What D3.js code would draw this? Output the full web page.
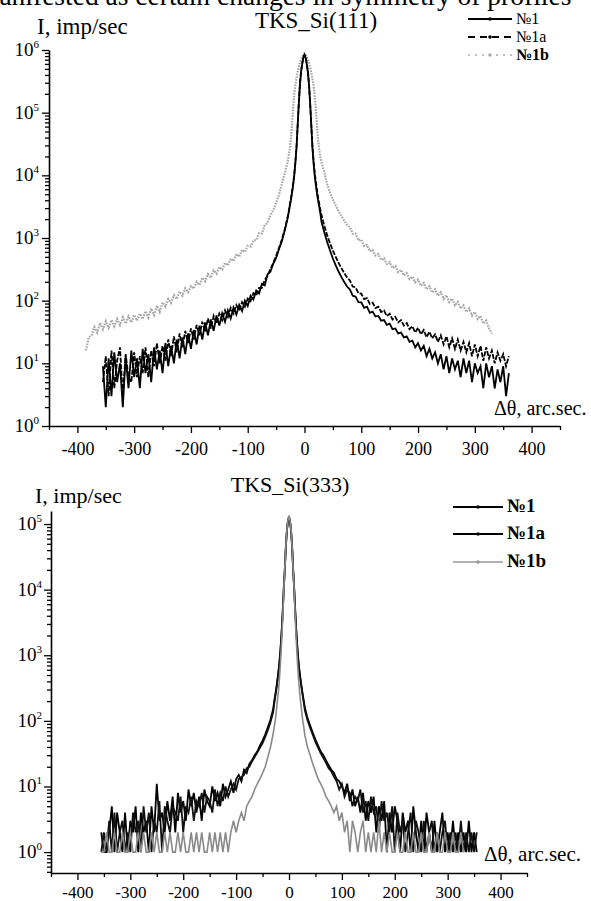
<!DOCTYPE html>
<html>
<head>
<meta charset="utf-8">
<script src="https://cdn.jsdelivr.net/npm/d3@7"></script>
<style>
body { margin: 0; background: #fff; }
svg { display: block; font-family: "Liberation Serif", "Times New Roman", serif; }
</style>
</head>
<body>
<script>
// scan angles, arc sec (same grid for both reflections)
const angles = [
  -385,-380,-375,-370,-365,-360,-355,-350,-345,-340,
  -335,-330,-325,-320,-315,-310,-305,-300,-295,-290,
  -285,-280,-275,-270,-265,-260,-255,-250,-245,-240,
  -235,-230,-225,-220,-215,-210,-205,-200,-195,-190,
  -185,-180,-175,-170,-165,-160,-155,-150,-145,-140,
  -135,-130,-125,-120,-115,-110,-105,-100,-95,-90,
  -85,-80,-75,-70,-65,-60,-55,-50,-45,-40,
  -35,-30,
  -28,-26,-24,-22,-20,-18,-16,-14,-12,-10,-8,-6,-4,-2,0,2,4,6,8,10,12,14,16,18,20,22,24,26,28,
  30,35,40,45,50,55,60,65,70,75,
  80,85,90,95,100,105,110,115,120,125,
  130,135,140,145,150,155,160,165,170,175,
  180,185,190,195,200,205,210,215,220,225,
  230,235,240,245,250,255,260,265,270,275,
  280,285,290,295,300,305,310,315,320,325,
  330,335,340,345,350,355,360
];

// ---- TKS_Si(111), imp/sec
const si111_no1 = [
  null,null,null,null,null,null,
  9,2,12,3,15,5,10,2,13,4,
  16,6,12,4,17,7,14,5,18,8,
  16,7,21,9,19,10,24,12,26,14,
  30,17,34,20,40,24,45,28,50,33,
  58,40,63,46,70,52,78,60,86,68,
  100,82,120,104,145,130,185,175,265,290,
  390,480,660,880,1300,2000,
  2500,3200,4000,5200,7000,10000,16000,28000,63000,140000,
  280000,450000,600000,760000,830000,750000,590000,440000,270000,135000,
  60000,27000,15500,9800,6900,5100,3900,3100,2450,
  1800,1220,860,630,470,365,292,238,198,168,
  150,120,116,95,94,77,80,64,67,56,
  57,48,49,41,43,35,36,30,31,26,
  27,22,23,18,21,16,19,13,17,12,
  15,10,14,8,13,7,12,8,11,6,
  12,7,11,5,10,7,9,4,10,6,
  9,4,8,5,9,3,7
];
const si111_no1a = [
  null,null,null,null,null,null,
  5,13,3,16,4,11,18,3,14,6,
  5,15,6,13,7,18,6,16,9,21,
  10,19,11,24,13,27,15,30,18,33,
  21,36,24,41,28,46,32,52,36,57,
  43,62,49,70,55,77,62,85,70,95,
  80,108,98,132,122,160,160,215,250,320,
  400,520,690,940,1360,2100,
  2600,3300,4200,5500,7300,10500,16800,29000,65000,145000,
  290000,460000,610000,770000,840000,765000,605000,455000,285000,142000,
  64000,29000,17000,11000,7800,5800,4400,3500,2800,
  2300,1550,1100,820,630,500,400,330,275,235,
  210,168,163,132,130,106,110,89,93,76,
  80,66,70,57,62,50,55,45,49,40,
  44,35,39,31,37,29,34,26,32,25,
  29,22,28,20,27,18,25,17,24,16,
  22,15,21,13,20,13,19,11,18,12,
  16,10,15,11,14,9,13
];
const si111_no1b = [
  16,26,28,38,31,44,35,47,37,49,
  39,51,41,54,43,56,45,59,48,62,
  51,68,54,75,59,83,66,94,80,106,
  92,122,106,140,120,158,136,170,156,200,
  178,232,204,265,232,305,270,345,315,400,
  365,470,430,555,505,650,600,750,730,910,
  930,1190,1180,1600,1750,2350,2750,3650,4900,7200,10600,15800,
  20000,26000,38000,65000,115000,200000,280000,360000,450000,540000,
  630000,710000,790000,850000,890000,850000,785000,700000,620000,530000,
  440000,350000,270000,190000,115000,62000,36000,25500,19500,
  16000,11000,7200,5300,4100,3300,2700,2250,1900,1620,
  1480,1170,1180,920,940,740,770,615,645,525,
  555,445,475,385,410,330,355,286,310,252,
  274,222,242,196,216,172,192,152,170,135,
  152,120,136,107,122,95,108,84,96,75,
  84,66,75,58,66,51,57,43,48,36,
  30,null,null,null,null,null,null
];

// ---- TKS_Si(333), imp/sec
const si333_no1 = [
  null,null,null,null,null,null,
  2,1,1,2,5,1,4,2,1,4,
  1,3,2,5,1,4,2,3,1,5,
  2,11,3,4,2,6,3,7,2,8,
  4,6,3,9,5,8,4,7,3,9,
  6,5,10,6,8,5,11,7,9,12,
  8,13,15,12,18,16,22,25,30,34,
  42,50,62,80,105,150,
  200,250,316,417,560,800,1260,2240,4470,10000,
  20000,45000,80000,112000,130000,110000,78000,44000,19500,9800,
  4400,2200,1250,790,560,420,320,250,200,
  160,110,85,66,52,42,34,30,25,21,
  18,16,13,12,10,8,11,6,9,5,
  7,4,8,3,6,4,7,2,5,3,
  6,1,4,2,5,3,1,4,2,3,
  1,5,2,1,3,1,4,2,1,3,
  1,2,4,1,2,1,3,1,2,1,
  2,1,3,1,2,1,null
];
const si333_no1a = [
  null,null,null,null,null,null,
  1,2,1,3,1,4,1,2,3,1,
  2,1,4,2,3,1,5,2,4,1,
  3,2,6,1,5,3,2,5,4,3,
  7,2,5,4,7,3,6,5,8,4,
  7,6,4,9,5,8,6,10,7,9,
  11,9,13,14,15,19,20,24,28,33,
  39,46,57,72,95,135,
  180,230,300,400,540,780,1220,2150,4300,9700,
  19500,44000,79000,111000,128000,109000,77000,43000,19000,9500,
  4300,2150,1200,760,540,400,310,240,190,
  145,102,78,61,48,39,32,27,23,19,
  17,14,12,9,11,7,9,8,5,7,
  6,9,4,6,3,7,4,5,2,6,
  3,4,2,5,1,4,2,3,1,2,
  4,1,3,2,1,3,1,2,3,1,
  2,1,2,3,1,2,1,2,1,3,
  1,2,1,2,1,2,null
];
const si333_no1b = [
  null,null,null,null,null,null,
  1,1,2,1,1,2,1,1,2,1,
  1,2,1,1,2,1,2,1,1,2,
  1,2,1,1,2,1,2,1,1,2,
  1,2,1,1,2,1,2,1,2,1,
  1,2,1,2,1,2,1,2,1,2,
  3,2,3,4,3,5,6,7,9,11,
  13,16,20,28,40,63,
  80,100,140,200,280,450,800,1600,3500,9000,
  20000,45000,80000,115000,135000,114000,79000,44000,19500,8800,
  3400,1550,780,440,275,195,138,100,80,
  60,40,30,22,17,13,11,9,7,6,
  5,4,5,3,4,2,3,1,3,2,
  1,2,3,1,2,1,2,1,3,1,
  2,1,2,1,1,2,1,1,2,1,
  1,2,1,1,2,1,1,2,1,1,
  2,1,1,2,1,1,2,1,1,2,
  1,null,null,null,null,null,null
];

const seriesNames = ["№1", "№1a", "№1b"];
const xTicks = [-400, -300, -200, -100, 0, 100, 200, 300, 400];
const xMinorTicks = [-450, -350, -250, -150, -50, 50, 150, 250, 350, 450];

const svg = d3.select("body").append("svg")
    .attr("width", 591)
    .attr("height", 901);

// last line of the page text above the figure, cut by the crop
svg.append("text")
    .attr("x", -22).attr("y", 5)
    .attr("font-size", 27.5)
    .text("manifested as certain changes in symmetry of profiles");

function drawPanel(p) {
  const x = d3.scaleLinear().domain([-450, 450]).range(p.xRange);
  const y = d3.scaleLog().domain(p.yDomain).range(p.yRange);
  const g = svg.append("g");

  // minor ticks first, then the major axis on top
  let yMinor = [];
  for (let k = -1; k <= 6; k++) {
    for (let m = 2; m <= 9; m++) {
      let v = m * Math.pow(10, k);
      if (v >= p.yDomain[0] && v <= p.yDomain[1]) yMinor.push(v);
    }
  }
  let yMajor = [];
  for (let k = 0; k <= 6; k++) {
    let v = Math.pow(10, k);
    if (v >= p.yDomain[0] && v <= p.yDomain[1]) yMajor.push(v);
  }

  g.append("g")
      .attr("transform", "translate(0," + p.yRange[0] + ")")
      .call(d3.axisBottom(x).tickValues(xMinorTicks).tickSize(4).tickSizeOuter(0).tickFormat(""))
      .call(a => a.select(".domain").remove());
  const xa = g.append("g")
      .attr("transform", "translate(0," + p.yRange[0] + ")")
      .call(d3.axisBottom(x).tickValues(xTicks).tickSize(7).tickSizeOuter(0).tickFormat(d => String(d)));
  xa.selectAll("text")
      .attr("y", p.xLabelOffset).attr("dy", 0)
      .attr("font-size", p.tickFont)
      .attr("font-family", "Liberation Serif");

  g.append("g")
      .attr("transform", "translate(" + p.xRange[0] + ",0)")
      .call(d3.axisLeft(y).tickValues(yMinor).tickSize(4).tickSizeOuter(0).tickFormat(""))
      .call(a => a.select(".domain").remove());
  g.append("g")
      .attr("transform", "translate(" + p.xRange[0] + ",0)")
      .call(d3.axisLeft(y).tickValues(yMajor).tickSize(7).tickSizeOuter(0).tickFormat(""));

  g.selectAll(".domain").attr("stroke-width", 1.6);
  g.selectAll(".tick line").attr("stroke-width", 1.3);

  // 10^k labels
  const yl = g.append("g").selectAll("text")
      .data(yMajor)
    .enter().append("text")
      .attr("x", p.xRange[0] - p.yLabelGap)
      .attr("y", d => y(d) + 6)
      .attr("text-anchor", "end")
      .attr("font-size", 19);
  yl.append("tspan").text("10");
  yl.append("tspan")
      .attr("dy", -8)
      .attr("font-size", 11)
      .text(d => Math.round(Math.log10(d)));

  // curves
  const line = d3.line()
      .defined(d => d[1] != null)
      .x(d => x(d[0]))
      .y(d => y(d[1]));

  p.series.forEach(function(s) {
    g.append("path")
        .datum(angles.map((a, i) => [a, s.values[i]]))
        .attr("d", line)
        .attr("fill", "none")
        .attr("stroke", s.color)
        .attr("stroke-width", s.width)
        .attr("stroke-dasharray", s.dash)
        .attr("stroke-linejoin", "miter");
  });

  // titles
  g.append("text")
      .attr("x", p.titleX).attr("y", p.titleY)
      .attr("text-anchor", "middle")
      .attr("font-size", p.titleFont)
      .text(p.title);
  g.append("text")
      .attr("x", p.yTitleX).attr("y", p.yTitleY)
      .attr("font-size", p.titleFont)
      .text("I, imp/sec");
  g.append("text")
      .attr("x", p.xTitleX).attr("y", p.xTitleY)
      .attr("font-size", p.xTitleFont)
      .text("Δθ, arc.sec.");

  // legend
  const lg = g.append("g").selectAll("g")
      .data(p.legend)
    .enter().append("g")
      .attr("transform", (d, i) => "translate(" + p.legendX + "," + p.legendY[i] + ")");
  lg.append("line")
      .attr("x1", 0).attr("x2", p.legendLen)
      .attr("stroke", d => d.color)
      .attr("stroke-width", d => d.width)
      .attr("stroke-dasharray", d => d.dash);
  lg.append("circle")
      .attr("cx", p.legendLen / 2).attr("r", 1.8)
      .attr("fill", d => d.dot);
  lg.append("text")
      .attr("x", p.legendLen + 4).attr("y", 5)
      .attr("font-size", p.legendFont)
      .attr("font-weight", d => d.bold ? "bold" : "normal")
      .text(d => d.name);
}

drawPanel({
  title: "TKS_Si(111)",
  xRange: [49, 560],
  yDomain: [1, 1e6],
  yRange: [426, 50],
  xLabelOffset: 29,
  tickFont: 18,
  yLabelGap: 10,
  titleX: 316, titleY: 28, titleFont: 23,
  yTitleX: 37, yTitleY: 34,
  xTitleX: 494, xTitleY: 415, xTitleFont: 20,
  legendX: 468, legendY: [19, 37, 55], legendLen: 44, legendFont: 16,
  legend: [
    { name: seriesNames[0], color: "#000", width: 2.2, dash: null, dot: "#000" },
    { name: seriesNames[1], color: "#000", width: 2, dash: "7,5", dot: "#000" },
    { name: seriesNames[2], color: "#aaa", width: 1.5, dash: "2,5", dot: "#aaa", bold: true }
  ],
  series: [
    { values: si111_no1b, color: "#a6a6a6", width: 2.2, dash: "1.6,1.2" },
    { values: si111_no1a, color: "#000", width: 1.8, dash: "5,1.5" },
    { values: si111_no1, color: "#000", width: 1.8, dash: null }
  ]
});

drawPanel({
  title: "TKS_Si(333)",
  xRange: [51, 527],
  yDomain: [0.48, 1.58e5],
  yRange: [873, 511],
  xLabelOffset: 25,
  tickFont: 17,
  yLabelGap: 9,
  titleX: 290, titleY: 492, titleFont: 22,
  yTitleX: 35, yTitleY: 503,
  xTitleX: 484, xTitleY: 861, xTitleFont: 21,
  legendX: 453, legendY: [507, 534, 562], legendLen: 50, legendFont: 19,
  legend: [
    { name: seriesNames[0], color: "#000", width: 2, dash: null, dot: "#000", bold: true },
    { name: seriesNames[1], color: "#000", width: 2, dash: null, dot: "#000", bold: true },
    { name: seriesNames[2], color: "#999", width: 1.5, dash: null, dot: "#999", bold: true }
  ],
  series: [
    { values: si333_no1, color: "#000", width: 1.8, dash: null },
    { values: si333_no1a, color: "#111", width: 1.8, dash: null },
    { values: si333_no1b, color: "#8a8a8a", width: 1.6, dash: null }
  ]
});
</script>
</body>
</html>
